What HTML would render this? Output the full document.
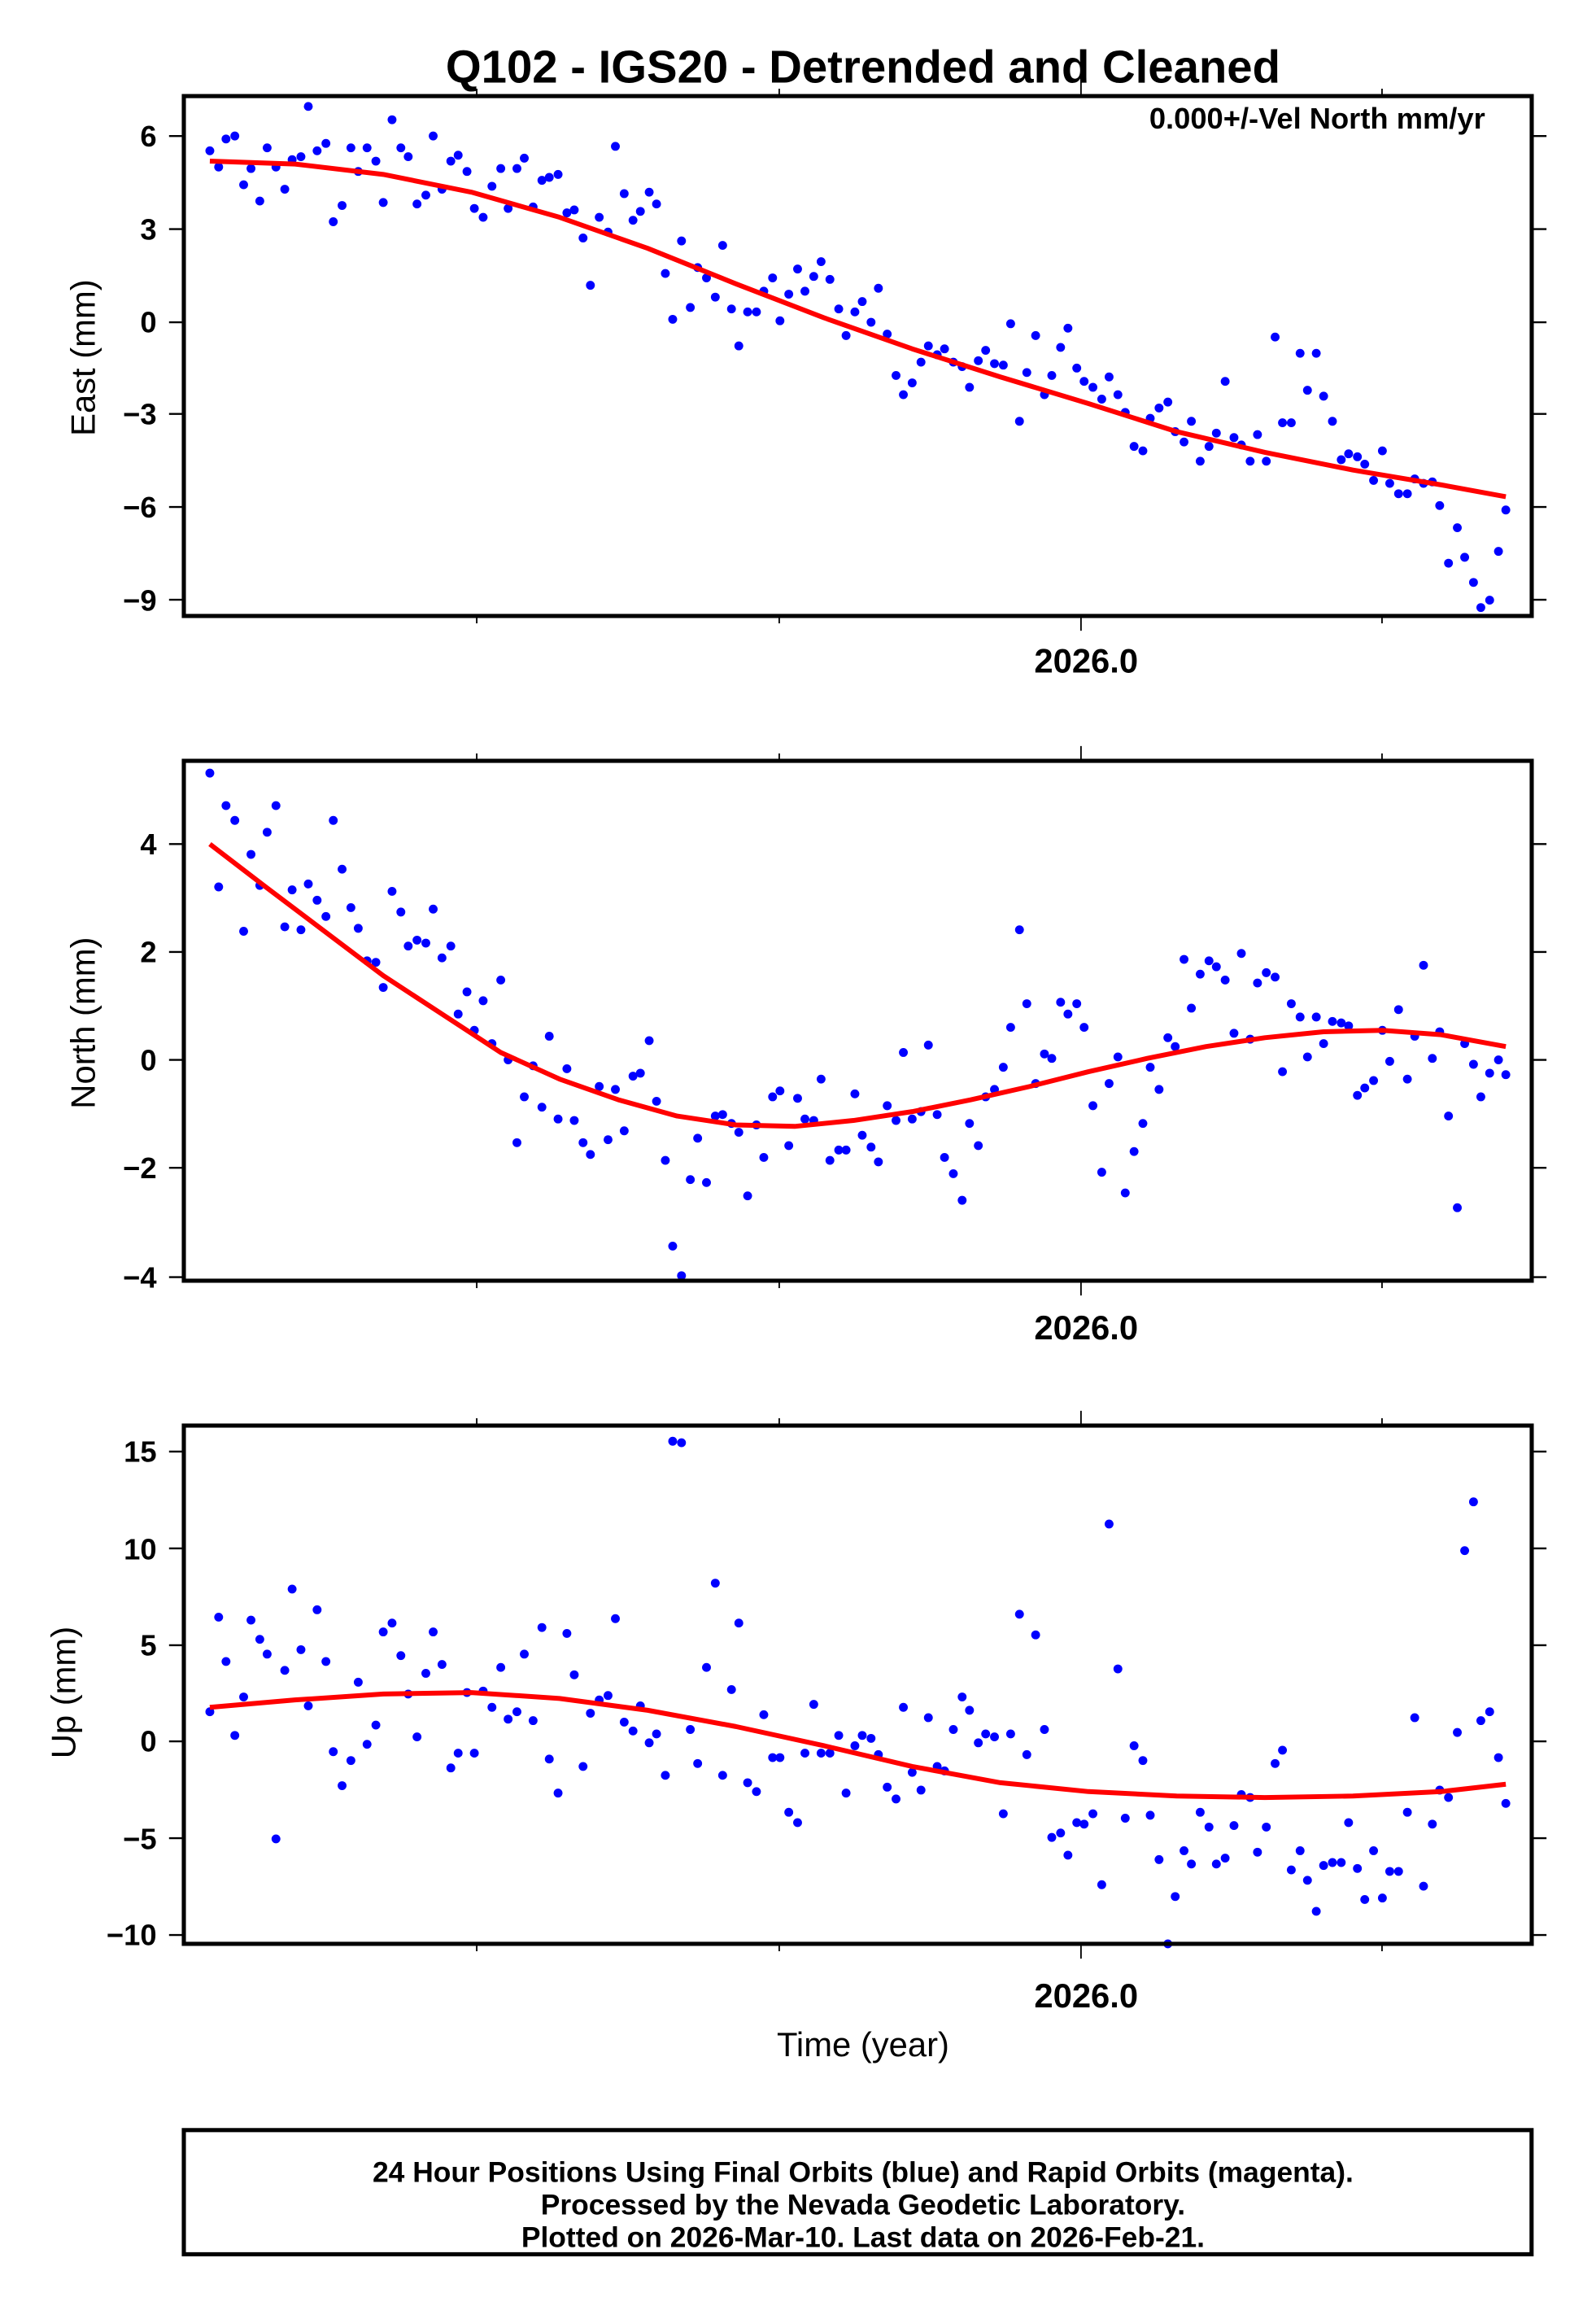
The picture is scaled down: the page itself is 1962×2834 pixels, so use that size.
<!DOCTYPE html>
<html><head><meta charset="utf-8"><style>
html,body{margin:0;padding:0;background:#fff}
svg{display:block}
text{font-family:"Liberation Sans",sans-serif}
</style></head><body>
<svg id="s" xmlns="http://www.w3.org/2000/svg" width="1962" height="2834" viewBox="0 0 1080 1560">
<rect width="1080" height="1560" fill="#fff"/>
<text x="584" y="56" font-size="31" font-weight="bold" text-anchor="middle">Q102 - IGS20 - Detrended and Cleaned</text>
<g id="g"></g>
<text x="1005" y="87" font-size="20" font-weight="bold" text-anchor="end">0.000+/-Vel North mm/yr</text>
<g font-size="20" font-weight="bold" text-anchor="end">
<text x="106" y="99">6</text><text x="106" y="162">3</text><text x="106" y="225">0</text><text x="106" y="287">−3</text><text x="106" y="350">−6</text><text x="106" y="413">−9</text>
<text x="106" y="578">4</text><text x="106" y="651">2</text><text x="106" y="724">0</text><text x="106" y="797">−2</text><text x="106" y="871">−4</text>
<text x="106" y="989">15</text><text x="106" y="1055">10</text><text x="106" y="1120">5</text><text x="106" y="1185">0</text><text x="106" y="1251">−5</text><text x="106" y="1316">−10</text>
</g>
<g font-size="23" font-weight="bold" text-anchor="middle">
<text x="735" y="455">2026.0</text><text x="735" y="906">2026.0</text><text x="735" y="1358">2026.0</text>
</g>
<g font-size="23" text-anchor="middle">
<text transform="translate(64,242) rotate(-90)">East (mm)</text>
<text transform="translate(64,692) rotate(-90)">North (mm)</text>
<text transform="translate(51,1145) rotate(-90)">Up (mm)</text>
<text x="584" y="1391">Time (year)</text>
</g>
<rect x="124.4" y="1441" width="912" height="84" fill="none" stroke="#000" stroke-width="2.8"/>
<g font-size="19.5" font-weight="bold" text-anchor="middle">
<text x="584" y="1476">24 Hour Positions Using Final Orbits (blue) and Rapid Orbits (magenta).</text>
<text x="584" y="1498">Processed by the Nevada Geodetic Laboratory.</text>
<text x="584" y="1520">Plotted on 2026-Mar-10. Last data on 2026-Feb-21.</text>
</g>
</svg>
<script>
var NS="http://www.w3.org/2000/svg",g=document.getElementById('g');
function el(t,a){var e=document.createElementNS(NS,t);for(var k in a)e.setAttribute(k,a[k]);g.appendChild(e);return e;}
function X(x){return 142+(x-142)*0.9943;}
var panels=[
{t:65,b:416.7,yt:[92,155,218,280,343,405.7],
d:[[142,102],[148,113],[153,94],[159,92],[165,125],[170,114],[176,136],[181,100],[187,113],[193,128],[198,108],[204,106],[209,72],[215,102],[221,97],[226,150],[232,139],[238,100],[243,116],[249,100],[255,109],[260,137],[266,81],[272,100],[277,106],[283,138],[289,132],[294,92],[300,128],[306,109],[311,105],[317,116],[322,141],[328,147],[334,126],[340,114],[345,141],[351,114],[356,107],[362,140],[368,122],[373,120],[379,118],[385,144],[390,142],[396,161],[401,193],[407,147],[413,157],[418,99],[424,131],[430,149],[435,143],[441,130],[446,138],[452,185],[457,216],[463,163],[469,208],[474,181],[480,188],[486,201],[491,166],[497,209],[502,234],[508,211],[514,211],[519,197],[525,188],[530,217],[536,199],[542,182],[547,197],[553,187],[558,177],[564,189],[570,209],[575,227],[581,211],[586,204],[592,218],[597,195],[603,226],[609,254],[614,267],[620,259],[626,245],[631,234],[637,240],[642,236],[648,245],[654,248],[659,262],[665,244],[670,237],[676,246],[682,247],[687,219],[693,285],[698,252],[704,227],[710,267],[715,254],[721,235],[726,222],[732,249],[737,258],[743,262],[749,270],[754,255],[760,267],[765,279],[771,302],[777,305],[782,283],[788,276],[794,272],[799,292],[805,299],[810,285],[816,312],[822,302],[827,293],[833,258],[839,296],[844,301],[850,312],[855,294],[861,312],[867,228],[872,286],[878,286],[884,239],[889,264],[895,239],[900,268],[906,285],[912,311],[917,307],[923,309],[928,314],[934,325],[940,305],[945,327],[951,334],[957,334],[962,324],[968,327],[974,326],[979,342],[985,381],[991,357],[996,377],[1002,394],[1007,411],[1013,406],[1019,373],[1024,345]],
f:[[142,109],[200,111],[260,118],[320,130],[380,147],[440,168],[500,192],[560,215],[620,236],[680,255],[740,273],[800,292],[860,306],[920,318],[980,328],[1024,336]]},
{t:514.7,b:866.4,yt:[571,644,717,790,864],
d:[[142,523],[148,600],[153,545],[159,555],[165,630],[170,578],[176,599],[181,563],[187,545],[193,627],[198,602],[204,629],[209,598],[215,609],[221,620],[226,555],[232,588],[238,614],[243,628],[249,650],[255,651],[260,668],[266,603],[272,617],[277,640],[283,636],[289,638],[294,615],[300,648],[306,640],[311,686],[317,671],[322,697],[328,677],[334,706],[340,663],[345,717],[351,773],[356,742],[362,721],[368,749],[373,701],[379,757],[385,723],[390,758],[396,773],[401,781],[407,735],[413,771],[418,737],[424,765],[430,728],[435,726],[441,704],[446,745],[452,785],[457,843],[463,863],[469,798],[474,770],[480,800],[486,755],[491,754],[497,760],[502,766],[508,809],[514,761],[519,783],[525,742],[530,738],[536,775],[542,743],[547,757],[553,758],[558,730],[564,785],[570,778],[575,778],[581,740],[586,768],[592,776],[597,786],[603,748],[609,758],[614,712],[620,757],[626,752],[631,707],[637,754],[642,783],[648,794],[654,812],[659,760],[665,775],[670,742],[676,737],[682,722],[687,695],[693,629],[698,679],[704,733],[710,713],[715,716],[721,678],[726,686],[732,679],[737,695],[743,748],[749,793],[754,733],[760,715],[765,807],[771,779],[777,760],[782,722],[788,737],[794,702],[799,708],[805,649],[810,682],[816,659],[822,650],[827,654],[833,663],[839,699],[844,645],[850,703],[855,665],[861,658],[867,661],[872,725],[878,679],[884,688],[889,715],[895,688],[900,706],[906,691],[912,692],[917,694],[923,741],[928,736],[934,731],[940,697],[945,718],[951,683],[957,730],[962,701],[968,653],[974,716],[979,698],[985,755],[991,817],[996,706],[1002,720],[1007,742],[1013,726],[1019,717],[1024,727]],
f:[[142,571],[180,600],[220,630],[260,660],[300,686],[340,712],[380,730],[420,744],[460,755],[500,761],[540,762],[580,758],[620,752],[660,744],[700,735],[740,725],[780,716],[820,708],[860,702],[900,698],[940,697],[980,700],[1024,708]]},
{t:964.4,b:1315,yt:[982,1047.5,1113,1178,1243.5,1309],
d:[[142,1158],[148,1094],[153,1124],[159,1174],[165,1148],[170,1096],[176,1109],[181,1119],[187,1244],[193,1130],[198,1075],[204,1116],[209,1154],[215,1089],[221,1124],[226,1185],[232,1208],[238,1191],[243,1138],[249,1180],[255,1167],[260,1104],[266,1098],[272,1120],[277,1146],[283,1175],[289,1132],[294,1104],[300,1126],[306,1196],[311,1186],[317,1145],[322,1186],[328,1144],[334,1155],[340,1128],[345,1163],[351,1158],[356,1119],[362,1164],[368,1101],[373,1190],[379,1213],[385,1105],[390,1133],[396,1195],[401,1159],[407,1150],[413,1147],[418,1095],[424,1165],[430,1171],[435,1154],[441,1179],[446,1173],[452,1201],[457,975],[463,976],[469,1170],[474,1193],[480,1128],[486,1071],[491,1201],[497,1143],[502,1098],[508,1206],[514,1212],[519,1160],[525,1189],[530,1189],[536,1226],[542,1233],[547,1186],[553,1153],[558,1186],[564,1186],[570,1174],[575,1213],[581,1181],[586,1174],[592,1176],[597,1187],[603,1209],[609,1217],[614,1155],[620,1199],[626,1211],[631,1162],[637,1195],[642,1198],[648,1170],[654,1148],[659,1157],[665,1179],[670,1173],[676,1175],[682,1227],[687,1173],[693,1092],[698,1187],[704,1106],[710,1170],[715,1243],[721,1240],[726,1255],[732,1233],[737,1234],[743,1227],[749,1275],[754,1031],[760,1129],[765,1230],[771,1181],[777,1191],[782,1228],[788,1258],[794,1315],[799,1283],[805,1252],[810,1261],[816,1226],[822,1236],[827,1261],[833,1257],[839,1235],[844,1214],[850,1216],[855,1253],[861,1236],[867,1193],[872,1184],[878,1265],[884,1252],[889,1272],[895,1293],[900,1262],[906,1260],[912,1260],[917,1233],[923,1264],[928,1285],[934,1252],[940,1284],[945,1266],[951,1266],[957,1226],[962,1162],[968,1276],[974,1234],[979,1211],[985,1216],[991,1172],[996,1049],[1002,1016],[1007,1164],[1013,1158],[1019,1189],[1024,1220]],
f:[[142,1155],[200,1150],[260,1146],[320,1145],[380,1149],[440,1157],[500,1168],[560,1181],[620,1195],[680,1206],[740,1212],[800,1215],[860,1216],[920,1215],[980,1212],[1024,1207]]}];
var L=124.4,R=1036.5,xt=[322.6,527.3,731.5,935.2];
panels.forEach(function(p){
  p.yt.forEach(function(y){el('line',{x1:L-10,x2:L,y1:y,y2:y,stroke:'#000','stroke-width':1.3});el('line',{x1:R,x2:R+10,y1:y,y2:y,stroke:'#000','stroke-width':1.3});});
  xt.forEach(function(x,i){var l=(i==2)?10:5;
    el('line',{x1:x,x2:x,y1:p.t-l,y2:p.t,stroke:'#000','stroke-width':1});
    el('line',{x1:x,x2:x,y1:p.b,y2:p.b+l,stroke:'#000','stroke-width':1});});
  p.d.forEach(function(q){el('circle',{cx:X(q[0]),cy:q[1],r:3,fill:'#0000ff'});});
  var s='M'+p.f.map(function(q){return X(q[0])+','+q[1]}).join(' L');
  el('path',{d:s,fill:'none',stroke:'#ff0000','stroke-width':3.3,'stroke-linejoin':'round'});
  el('rect',{x:L,y:p.t,width:R-L,height:p.b-p.t,fill:'none',stroke:'#000','stroke-width':2.8});
});
</script>
</body></html>
